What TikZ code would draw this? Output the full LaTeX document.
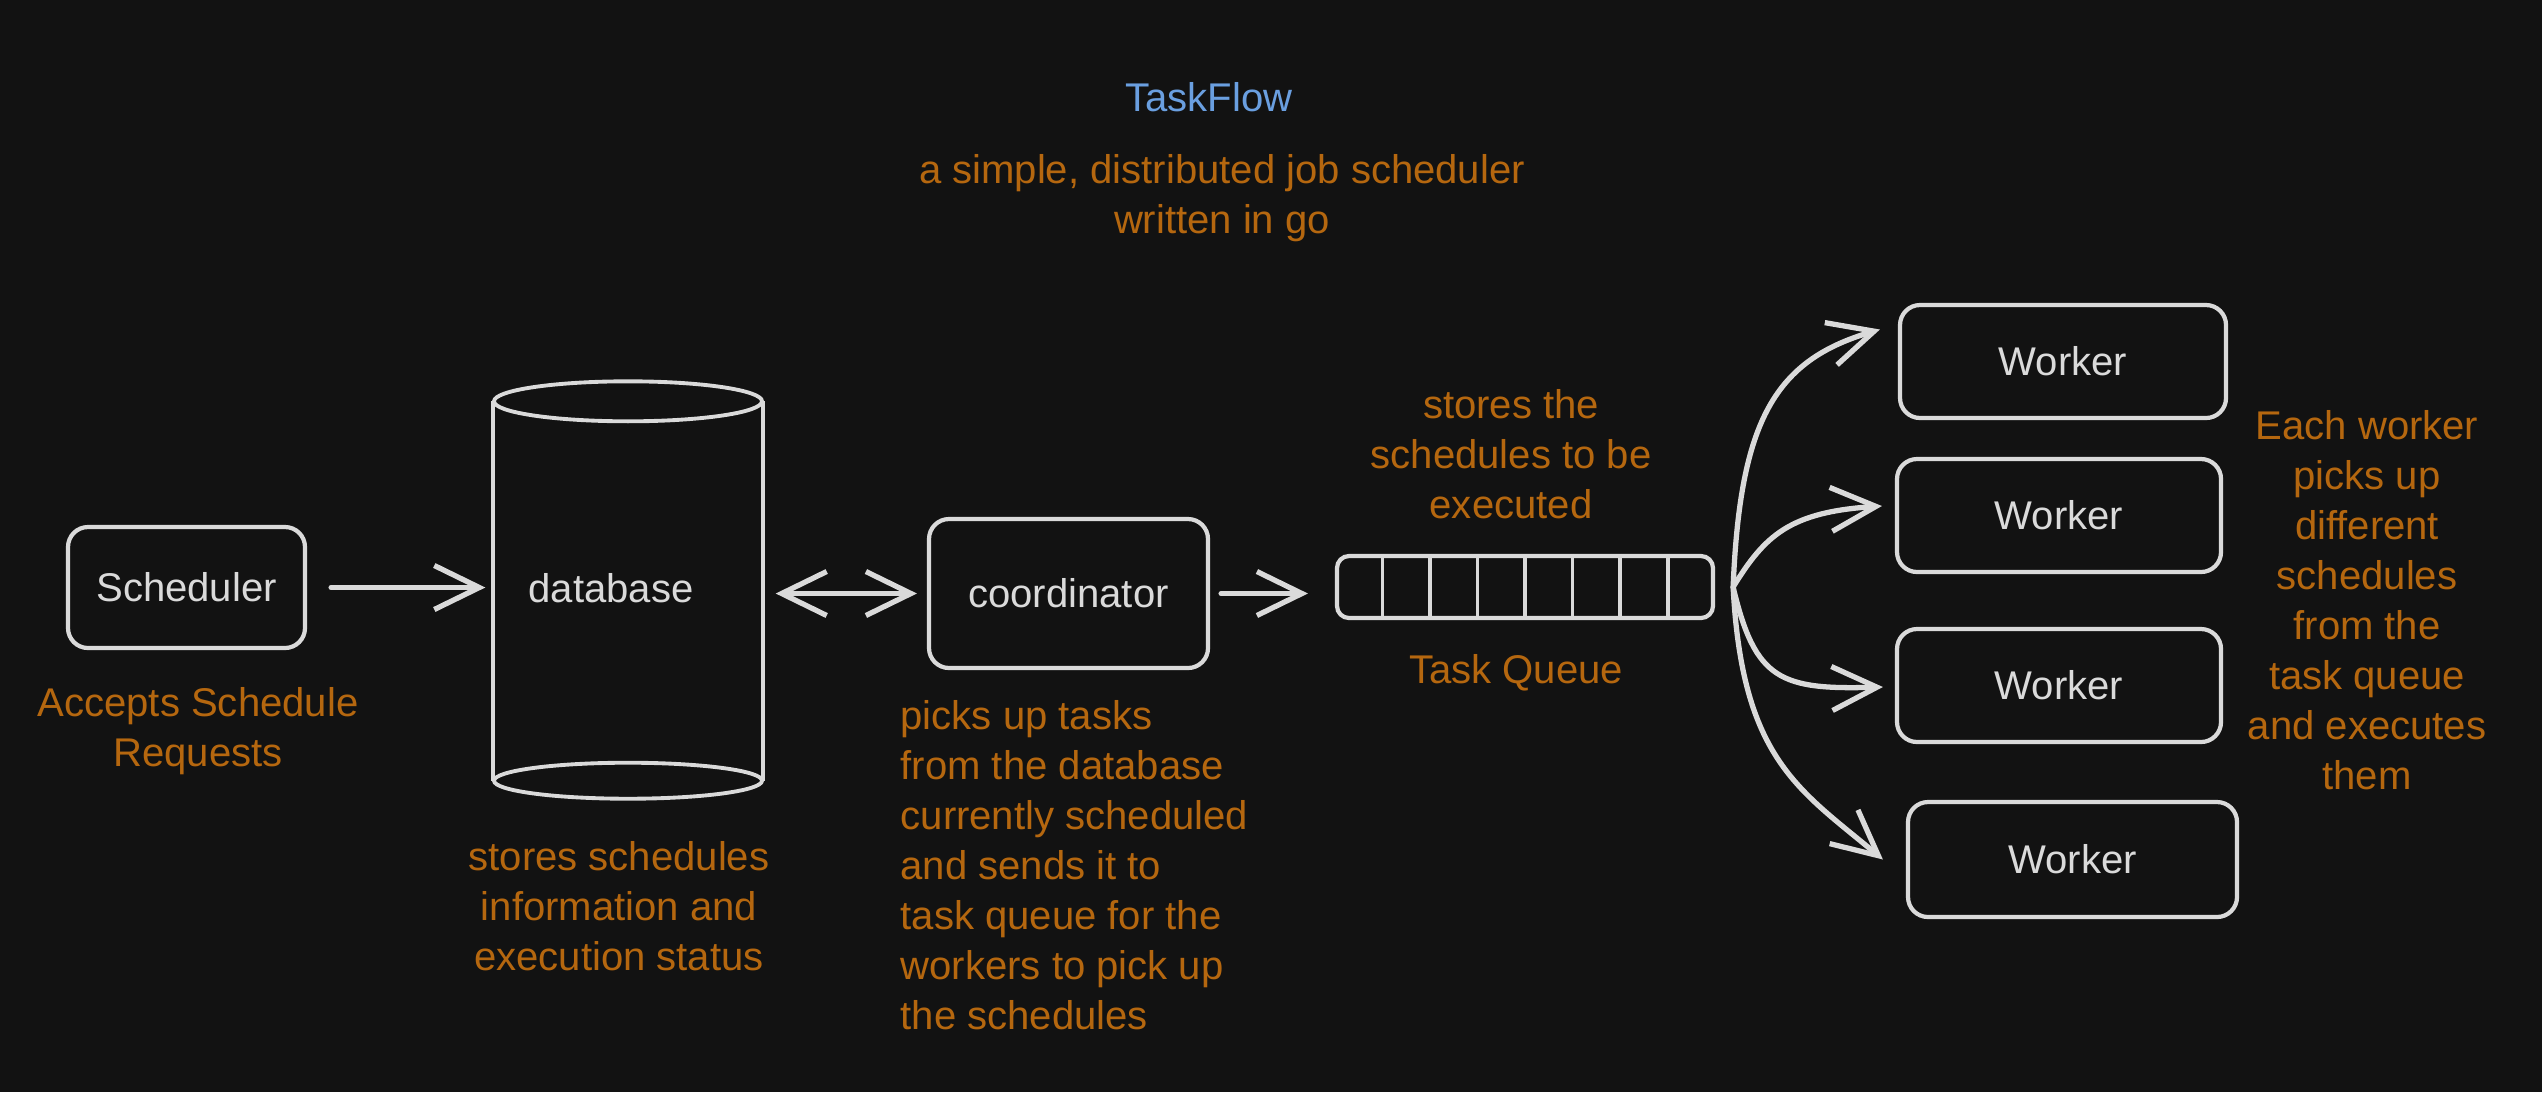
\documentclass[tikz,border=0pt]{standalone}
\usepackage{fontspec}
\setmainfont{Liberation Sans}
\usetikzlibrary{arrows.meta,calc}
\definecolor{bg}{HTML}{121212}
\definecolor{ink}{HTML}{DADADA}
\definecolor{notec}{HTML}{B5670F}
\definecolor{titleblue}{HTML}{6A9FE0}
\newcommand\dfont{\fontsize{11.4}{14.2}\selectfont}
\begin{document}
\begin{tikzpicture}[x=0.1mm,y=-0.1mm,
  box/.style={draw=ink, line width=1.2pt, rounded corners=2mm, text=ink, font=\dfont, inner sep=0pt},
  notetext/.style={text=notec, font=\dfont, align=center, inner sep=0pt},
  barb/.tip={Straight Barb[length=4.5mm,width=4.4mm]},
  arr/.style={draw=ink, line width=1.5pt, line cap=round, -{barb}},
  thin/.style={draw=ink, line width=1.1pt}]
\fill[bg] (0,0) rectangle (2542,1092);
\useasboundingbox (0,0) rectangle (2542,1092);

% title
\node[text=titleblue, font=\dfont, inner sep=0pt] (title) at (1209,97) {TaskFlow};
\node[notetext] (sub) at (1222,198) {a simple, distributed job scheduler\\written in go};

% scheduler
\node[box, minimum width=23.7mm, minimum height=12.1mm] (sch) at (186.5,587.5) {Scheduler};
\node[notetext] (schnote) at (198,731) {Accepts Schedule\\Requests};

% database
\node[inner sep=0pt, minimum width=26.8mm, minimum height=37.8mm] (db) at (628,591) {};
\draw[thin] (db.north west) -- (db.south west) (db.north east) -- (db.south east);
\draw[thin, fill=bg] (db.north) ellipse [x radius=13.4mm, y radius=2mm];
\draw[thin] (db.south) ellipse [x radius=13.4mm, y radius=1.8mm];
\node[text=ink, font=\dfont, inner sep=0pt] (dbtext) at ([xshift=-1.7mm,yshift=0.3mm]db.center) {database};
\node[notetext] (dbnote) at (619,906) {stores schedules\\information and\\execution status};

% coordinator
\node[box, minimum width=27.9mm, minimum height=14.9mm] (co) at (1068.5,593.5) {coordinator};
\node[notetext, align=left, anchor=west] (conote) at (900,865) {picks up tasks\\from the database\\currently scheduled\\and sends it to\\task queue for the\\workers to pick up\\the schedules};

% queue
\node[draw=ink, line width=1.2pt, rounded corners=1.2mm, minimum width=37.6mm, minimum height=6.2mm, inner sep=0pt] (q) at (1525,587) {};
\foreach \i in {1,...,7}
  \draw[thin] ($(q.north west)!\i/8!(q.north east)$) -- ($(q.south west)!\i/8!(q.south east)$);
\node[notetext] (qnote) at (1511,454) {stores the\\schedules to be\\executed};
\node[notetext] (qlabel) at (1516,673) {Task Queue};

% workers
\node[box, minimum width=32.6mm, minimum height=11.3mm] (w1) at (2063,361.5) {Worker};
\node[box, minimum width=32.4mm, minimum height=11.3mm] (w2) at (2059,515.5) {Worker};
\node[box, minimum width=32.4mm, minimum height=11.3mm] (w3) at (2059,685.5) {Worker};
\node[box, minimum width=32.9mm, minimum height=11.5mm] (w4) at (2072.5,859.5) {Worker};
\node[notetext] (wnote) at (2367,600) {Each worker\\picks up\\different\\schedules\\from the\\task queue\\and executes\\them};

% connectors
\draw[arr, shorten <=2.4mm, shorten >=0.8mm] (sch.east) -- (sch.east -| db.west);
\draw[arr, {barb}-{barb}, shorten <=1.3mm, shorten >=1mm] (co.west -| db.east) -- (co.west);
\draw[arr, shorten <=1.1mm, shorten >=2.7mm] (co.east) -- (co.east -| q.west);

\coordinate (fan) at ([xshift=1.8mm]q.east);
\draw[arr] (fan) .. controls (1740,420) and (1775,360) .. ([xshift=-1.8mm,yshift=3.2mm]w1.west);
\draw[arr] (fan) .. controls (1765,535) and (1790,512) .. ([xshift=-1.3mm,yshift=0.95mm]w2.west);
\draw[arr] (fan) .. controls (1755,680) and (1780,690) .. ([xshift=-1.2mm,yshift=-0.15mm]w3.west);
\draw[arr] (fan) .. controls (1742,760) and (1800,790) .. ([xshift=-2.3mm]w4.west);
\end{tikzpicture}
\end{document}
